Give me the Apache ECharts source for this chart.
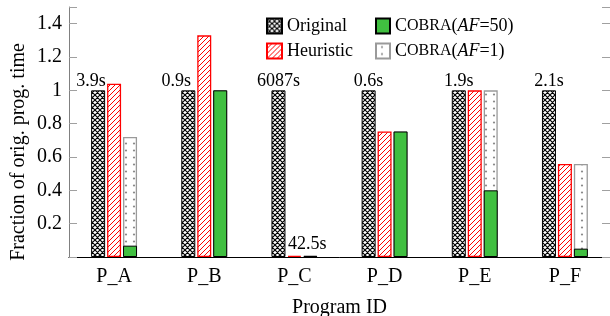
<!DOCTYPE html>
<html>
<head>
<meta charset="utf-8">
<script src="https://cdn.jsdelivr.net/npm/echarts@6/dist/echarts.min.js"></script>
<style>
html,body{margin:0;padding:0;background:#fff;}
#chart{width:610px;height:316px;}
</style>
</head>
<body>
<div id="chart"></div>
<script>
// ---- data ----
const categories = ['P_A', 'P_B', 'P_C', 'P_D', 'P_E', 'P_F'];
const original   = [1, 1, 1, 1, 1, 1];
const heuristic  = [1.04, 1.33, 0.007, 0.753, 1.0, 0.558];
const cobraAF1   = [0.72, 1.0, 0.007, 0.753, 1.0, 0.558];
const cobraAF50  = [0.068, 1.0, 0.007, 0.753, 0.40, 0.05];
const originalTimes = ['3.9s', '0.9s', '6087s', '0.6s', '1.9s', '2.1s'];
const cobraTimes    = ['', '', '42.5s', '', '', ''];
const seriesNames = ['Original', 'Heuristic', 'COBRA(AF=50)', 'COBRA(AF=1)'];
const yAxisTitle = 'Fraction of orig. prog. time';
const xAxisTitle = 'Program ID';

// ---- styles ----
const FONT = "'Liberation Serif', 'Times New Roman', serif";
const origLabelOffsets = [[-7, 0], [-12, 0], [0, 0], [0, 0], [0, 0], [0, 0]];

function pattern(w, h, draw) {
  const c = document.createElement('canvas');
  c.width = w; c.height = h;
  const ctx = c.getContext('2d');
  ctx.fillStyle = '#fff';
  ctx.fillRect(0, 0, w, h);
  draw(ctx, w, h);
  return { image: c, repeat: 'repeat' };
}
function lines(ctx, segs) {
  ctx.beginPath();
  segs.forEach(s => { ctx.moveTo(s[0], s[1]); ctx.lineTo(s[2], s[3]); });
  ctx.stroke();
}
const crossPat = pattern(5, 5, (ctx, w) => {
  ctx.strokeStyle = '#000'; ctx.lineWidth = 1.2;
  lines(ctx, [[0,0,w,w],[-w,0,0,w],[0,-w,w,0],[0,w,w,0],[-w,w,w,-w],[0,2*w,2*w,0]]);
});
const hatchPat = pattern(5, 5, (ctx, w) => {
  ctx.strokeStyle = '#ff0000'; ctx.lineWidth = 1;
  lines(ctx, [[0,w,w,0],[-w,w,w,-w],[0,2*w,2*w,0]]);
});
const dotPat = pattern(8, 7, (ctx) => {
  ctx.fillStyle = '#8a8a8a';
  ctx.beginPath(); ctx.arc(6, 3.5, 1.1, 0, Math.PI * 2); ctx.fill();
});

const chart = echarts.init(document.getElementById('chart'), null, { renderer: 'canvas' });

const empty = categories.map(() => null);
const barCommon = { type: 'bar', barWidth: 14, barGap: '14%', animation: false };

const option = {
  animation: false,
  grid: [
    { left: 69, top: 7, width: 541, height: 250, containLabel: false, outerBoundsMode: 'none' },
    { left: 69, top: 22, width: 541, height: 260, containLabel: false, outerBoundsMode: 'none' }   // only carries the y title
  ],
  legend: [
    {
      data: [seriesNames[0], seriesNames[1]],
      orient: 'vertical', left: 266, top: 16, padding: 0,
      itemWidth: 15, itemHeight: 15, itemGap: 5, icon: 'rect',
      textStyle: { fontFamily: FONT, fontSize: 18, color: '#000', lineHeight: 20 }
    },
    {
      data: [seriesNames[2], seriesNames[3]],
      orient: 'vertical', left: 375, top: 16, padding: 0,
      itemWidth: 14, itemHeight: 15, itemGap: 5, icon: 'rect',
      formatter: function (name) {
        const m = name.match(/^COBRA\(AF=(\d+)\)$/);
        if (!m) return name;
        return '{n|C}{sc|OBRA}{n|(}{it|AF}{n|=' + m[1] + ')}';
      },
      textStyle: {
        fontFamily: FONT, fontSize: 18, color: '#000', lineHeight: 20,
        rich: {
          n: { fontFamily: FONT, fontSize: 18, color: '#000' },
          sc: { fontFamily: FONT, fontSize: 16, color: '#000' },
          it: { fontFamily: FONT, fontSize: 18, fontStyle: 'italic', color: '#000' }
        }
      }
    }
  ],
  xAxis: [
    {
      type: 'category', data: categories, position: 'bottom', gridIndex: 0,
      axisLine: { lineStyle: { color: '#808080', width: 1 } },
      axisTick: { show: false },
      axisLabel: { fontFamily: FONT, fontSize: 20, color: '#000', margin: 10 },
      name: xAxisTitle, nameLocation: 'middle', nameGap: 41,
      nameTextStyle: { fontFamily: FONT, fontSize: 20, color: '#000' }
    },
    {
      type: 'category', data: categories, position: 'top', gridIndex: 0,
      axisLine: { lineStyle: { color: '#000', width: 1 } },
      axisTick: { show: false }, axisLabel: { show: false }
    },
    {
      type: 'category', data: categories, gridIndex: 1, show: false
    }
  ],
  yAxis: [
    {
      type: 'value', min: 0, max: 1.5, interval: 0.2, position: 'left', gridIndex: 0,
      axisLine: { show: true, lineStyle: { color: '#808080', width: 1 } },
      axisTick: { show: true, inside: true, length: 8, lineStyle: { color: '#a0a0a0' } },
      splitLine: { show: false },
      axisLabel: {
        fontFamily: FONT, fontSize: 20, color: '#000', margin: 7,
        formatter: v => (v <= 0.001 || v > 1.45) ? '' : String(+v.toFixed(1))
      }
    },
    {
      type: 'value', min: 0, max: 1.5, interval: 0.2, position: 'right', gridIndex: 0,
      axisLine: { show: true, lineStyle: { color: '#808080', width: 1 } },
      axisTick: { show: true, inside: true, length: 8, lineStyle: { color: '#a0a0a0' } },
      splitLine: { show: false }, axisLabel: { show: false }
    },
    {
      type: 'value', min: 0, max: 1.5, position: 'left', gridIndex: 1,
      axisLine: { show: false }, axisTick: { show: false }, axisLabel: { show: false },
      splitLine: { show: false },
      name: yAxisTitle, nameLocation: 'middle', nameGap: 40,
      nameTextStyle: { fontFamily: FONT, fontSize: 20, color: '#000' }
    }
  ],
  series: [
    Object.assign({}, barCommon, {
      name: seriesNames[0], xAxisIndex: 0, yAxisIndex: 0,
      data: original.map((v, i) => ({ value: v, label: { offset: origLabelOffsets[i] } })),
      itemStyle: { color: crossPat, borderColor: '#000', borderWidth: 1 },
      label: {
        show: true, position: 'top', distance: 0,
        fontFamily: FONT, fontSize: 18, color: '#000',
        formatter: p => originalTimes[p.dataIndex]
      }
    }),
    Object.assign({}, barCommon, {
      name: seriesNames[1], xAxisIndex: 0, yAxisIndex: 0, data: heuristic,
      itemStyle: { color: hatchPat, borderColor: '#ff0000', borderWidth: 1.3 }
    }),
    Object.assign({}, barCommon, {
      name: seriesNames[3], xAxisIndex: 0, yAxisIndex: 0, data: cobraAF1,
      itemStyle: { color: dotPat, borderColor: '#9a9a9a', borderWidth: 1.3 }
    }),
    Object.assign({}, barCommon, { name: '_slot1', xAxisIndex: 1, yAxisIndex: 0, data: empty, silent: true }),
    Object.assign({}, barCommon, { name: '_slot2', xAxisIndex: 1, yAxisIndex: 0, data: empty, silent: true }),
    Object.assign({}, barCommon, {
      name: seriesNames[2], xAxisIndex: 1, yAxisIndex: 0,
      data: cobraAF50.map((v, i) => ({ value: v, label: { show: !!cobraTimes[i], offset: [-3, 0] } })),
      itemStyle: { color: '#40bf40', borderColor: '#000', borderWidth: 1 },
      label: {
        show: false, position: 'top', distance: 3,
        fontFamily: FONT, fontSize: 18, color: '#000',
        formatter: p => cobraTimes[p.dataIndex]
      }
    })
  ]
};
chart.setOption(option);
</script>
</body>
</html>
